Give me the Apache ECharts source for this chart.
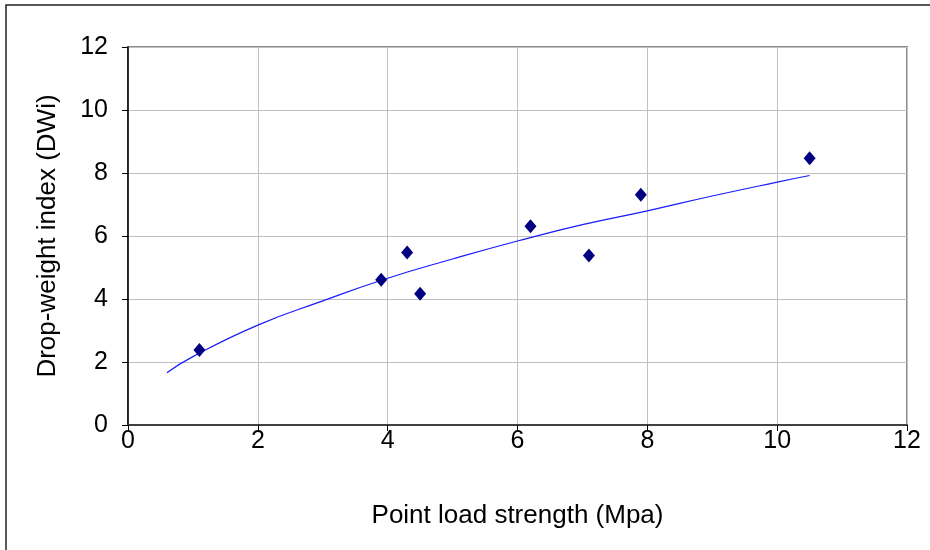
<!DOCTYPE html>
<html>
<head>
<meta charset="utf-8">
<script src="https://cdn.jsdelivr.net/npm/echarts@6/dist/echarts.min.js"></script>
<style>
  html, body { margin: 0; padding: 0; background: #fff; }
  #chart { width: 930px; height: 550px; }
</style>
</head>
<body>
<div id="chart"></div>
<script>
// Measured samples: point load strength (MPa) vs drop-weight index
const strength = [1.1, 3.9, 4.3, 4.5, 6.2, 7.1, 7.9, 10.5];
const dwi = [2.38, 4.61, 5.48, 4.17, 6.31, 5.38, 7.31, 8.47];

// Power trendline, sampled along its length
const trendX = [0.6, 1, 2, 3, 4, 5, 6, 7, 8, 9, 10, 10.5];
const trendY = [1.66, 2.17, 3.17, 3.94, 4.66, 5.27, 5.84, 6.36, 6.80, 7.27, 7.71, 7.92];

const axisTicks = [0, 2, 4, 6, 8, 10, 12];

const FONT = '"Liberation Sans", Arial, sans-serif';

const chart = echarts.init(document.getElementById('chart'), null, { renderer: 'canvas' });

chart.setOption({
  animation: false,
  backgroundColor: '#ffffff',
  graphic: [{
    type: 'rect',
    shape: { x: 6, y: 5, width: 1200, height: 1200 },
    style: { fill: 'none', stroke: '#222', lineWidth: 1.5 },
    silent: true
  }],
  grid: {
    left: 128, right: 23, top: 47, bottom: 125,
    show: true, borderColor: '#8c8c8c', borderWidth: 2, backgroundColor: 'transparent'
  },
  xAxis: {
    type: 'value',
    min: axisTicks[0], max: axisTicks[axisTicks.length - 1], interval: 2,
    name: 'Point load strength (Mpa)',
    nameLocation: 'middle', nameGap: 78,
    nameTextStyle: { fontFamily: FONT, fontSize: 26, color: '#000' },
    axisLine: { onZero: false, lineStyle: { color: '#404040', width: 2 } },
    axisTick: { show: true, inside: false, length: 6, lineStyle: { color: '#000', width: 1 } },
    axisLabel: { fontFamily: FONT, fontSize: 25, color: '#000', margin: 4 },
    splitLine: { show: true, lineStyle: { color: '#c0c0c0', width: 1 } }
  },
  yAxis: {
    type: 'value',
    min: axisTicks[0], max: axisTicks[axisTicks.length - 1], interval: 2,
    name: 'Drop-weight index (DWi)',
    nameLocation: 'middle', nameGap: 67,
    nameTextStyle: { fontFamily: FONT, fontSize: 26, color: '#000' },
    axisLine: { show: true, onZero: false, lineStyle: { color: '#000', width: 1.5 } },
    axisTick: { show: true, inside: false, length: 6, lineStyle: { color: '#000', width: 1 } },
    axisLabel: { fontFamily: FONT, fontSize: 25, color: '#000', margin: 20 },
    splitLine: { show: true, lineStyle: { color: '#c0c0c0', width: 1 } }
  },
  series: [
    {
      name: 'Trend',
      type: 'line',
      data: trendX.map((x, i) => [x, trendY[i]]),
      smooth: true,
      showSymbol: false,
      lineStyle: { color: '#1a1aff', width: 1.2 },
      z: 2
    },
    {
      name: 'DWi',
      type: 'scatter',
      data: strength.map((x, i) => [x, dwi[i]]),
      symbol: 'diamond',
      symbolSize: [12, 14],
      itemStyle: { color: '#000080', opacity: 1 },
      z: 3
    }
  ]
});
</script>
</body>
</html>
